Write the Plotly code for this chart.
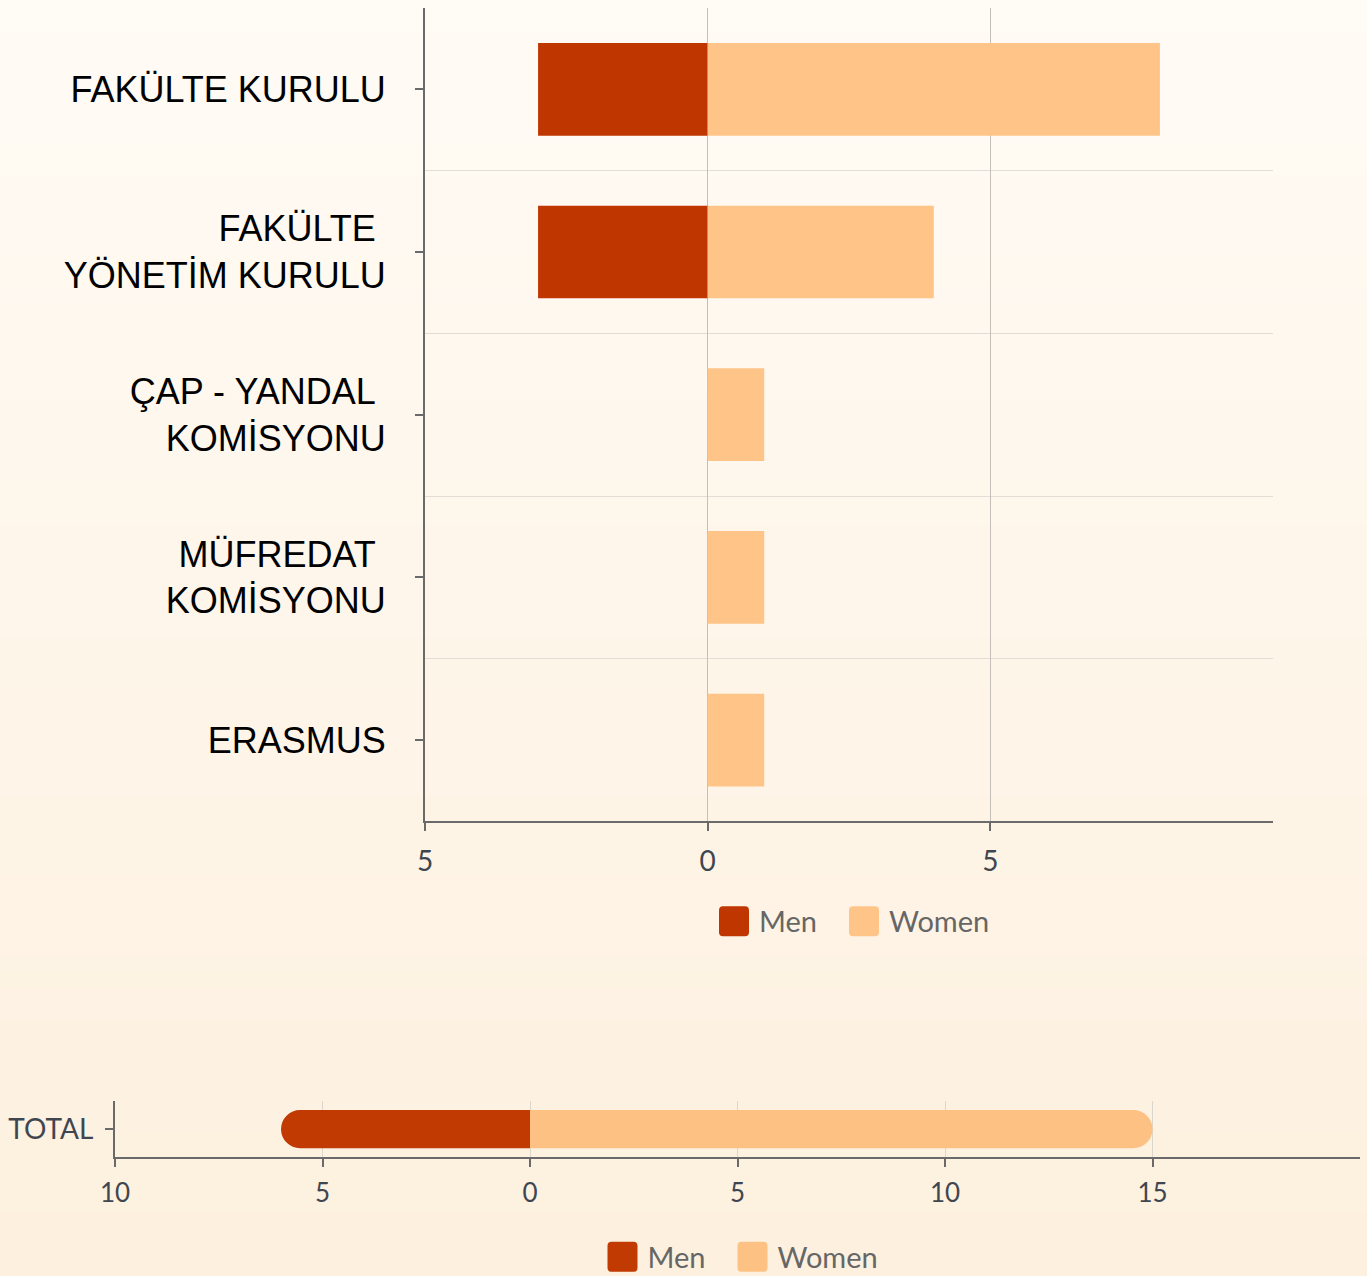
import plotly.graph_objects as go

categories = ["FAKÜLTE KURULU", "FAKÜLTE\u00a0<br>YÖNETİM KURULU", "ÇAP - YANDAL\u00a0<br>KOMİSYONU",
              "MÜFREDAT\u00a0<br>KOMİSYONU", "ERASMUS"]
men = [3, 3, 0, 0, 0]
women = [8, 4, 1, 1, 1]

total_label = ["TOTAL"]
total_men = [6]
total_women = [15]

top_tickvals = [-5, 0, 5]
top_ticktext = ["5", "0", "5"]
bot_tickvals = [-10, -5, 0, 5, 10, 15]
bot_ticktext = ["10", "5", "0", "5", "10", "15"]

MEN_C = "#bf3600"
WOMEN_C = "#ffc588"
W, H = 1367, 1283
RH = 1276.0  # reference height used for fractional placement

ypos = list(range(len(categories)))

fig = go.Figure()
fig.add_trace(go.Bar(y=ypos, x=[-v for v in men], orientation="h", name="Men",
                     marker=dict(color=MEN_C, line=dict(width=0)), width=0.57,
                     legend="legend", xaxis="x", yaxis="y", hoverinfo="skip"))
fig.add_trace(go.Bar(y=ypos, x=women, orientation="h", name="Women",
                     marker=dict(color=WOMEN_C, line=dict(width=0)), width=0.57,
                     legend="legend", xaxis="x", yaxis="y", hoverinfo="skip"))
fig.add_trace(go.Bar(y=[0], x=[-v for v in total_men], orientation="h", name="Men",
                     marker=dict(color="#c03a02", line=dict(width=0), cornerradius=19), width=0.68,
                     legend="legend2", xaxis="x2", yaxis="y2", hoverinfo="skip"))
fig.add_trace(go.Bar(y=[0], x=total_women, orientation="h", name="Women",
                     marker=dict(color="#fdc283", line=dict(width=0), cornerradius=19), width=0.68,
                     legend="legend2", xaxis="x2", yaxis="y2", hoverinfo="skip"))

# background gradient
shapes = []
N = 80
top_rgb = (255, 251, 245)
bot_rgb = (253, 240, 222)
for i in range(N):
    t = (i + 0.5) / N
    c = tuple(round(top_rgb[k] + (bot_rgb[k] - top_rgb[k]) * t) for k in range(3))
    shapes.append(dict(type="rect", xref="paper", yref="paper", x0=0, x1=1,
                       y0=1 - (i + 1) / N - 0.001, y1=1 - i / N,
                       fillcolor="rgb(%d,%d,%d)" % c, line=dict(width=0), layer="below"))

axis_line = "#6a6a6a"

x0t, x1t = 425 / W, 1273 / W
y0t, y1t = 1 - 822 / RH, 1 - 8 / RH
x0b, x1b = 115 / W, 1360 / W
y0b, y1b = 1 - 1158 / RH, 1 - 1102 / RH

legend_font = dict(family="Lato, sans-serif", size=29, color="#666666")

fig.update_layout(
    width=W, height=H,
    margin=dict(l=0, r=0, t=0, b=0),
    paper_bgcolor="#fef6ea",
    plot_bgcolor="rgba(0,0,0,0)",
    barmode="relative",
    shapes=shapes,
    showlegend=True,
    xaxis=dict(domain=[x0t, x1t], range=[-5, 10], tickvals=top_tickvals, ticktext=top_ticktext,
               showgrid=True, gridcolor="#c4bfb8", gridwidth=1, zeroline=False,
               showline=True, linecolor=axis_line, linewidth=2,
               ticks="outside", ticklen=8, tickcolor=axis_line, tickwidth=2,
               ticklabelstandoff=6,
               tickfont=dict(family="Lato, sans-serif", size=28, color="#3f4650"),
               minor=dict(tickvals=[10], showgrid=True, gridcolor="#ddd7cf", ticks=""),
               anchor="y", fixedrange=True, automargin=False),
    yaxis=dict(domain=[y0t, y1t], range=[4.5, -0.5], tickvals=ypos, ticktext=categories,
               showgrid=False, zeroline=False,
               showline=True, linecolor=axis_line, linewidth=2,
               ticks="outside", ticklen=8, tickcolor=axis_line, tickwidth=2,
               ticklabelstandoff=22,
               tickfont=dict(family="Liberation Sans, Arial, sans-serif", size=36, color="#000000"),
               minor=dict(tickvals=[0.5, 1.5, 2.5, 3.5], showgrid=True, gridcolor="#e2ddd6", ticks=""),
               anchor="x", fixedrange=True, automargin=False),
    xaxis2=dict(domain=[x0b, x1b], range=[-10, 20], tickvals=bot_tickvals, ticktext=bot_ticktext,
                showgrid=True, gridcolor="#ddd6cc", gridwidth=1, zeroline=False,
                showline=True, linecolor=axis_line, linewidth=2,
                ticks="outside", ticklen=8, tickcolor=axis_line, tickwidth=2,
                ticklabelstandoff=4,
                tickfont=dict(family="Lato, sans-serif", size=26, color="#3f4650"),
                minor=dict(tickvals=[20], showgrid=True, gridcolor="#ddd6cc", ticks=""),
                anchor="y2", fixedrange=True, automargin=False),
    yaxis2=dict(domain=[y0b, y1b], range=[-0.5, 0.5], tickvals=[0], ticktext=total_label,
                showgrid=False, zeroline=False,
                showline=True, linecolor=axis_line, linewidth=2,
                ticks="outside", ticklen=8, tickcolor=axis_line, tickwidth=2,
                ticklabelstandoff=6,
                tickfont=dict(family="Lato, sans-serif", size=28, color="#3f4650"),
                anchor="x2", fixedrange=True, automargin=False),
    legend=dict(orientation="h", x=(x0t + x1t) / 2, xanchor="center", y=1 - 922 / RH, yanchor="middle",
                font=legend_font, entrywidth=85, entrywidthmode="pixels",
                bgcolor="rgba(0,0,0,0)", itemclick=False, itemdoubleclick=False),
    legend2=dict(orientation="h", x=(x0b + x1b) / 2, xanchor="center", y=1 - 1258 / RH, yanchor="middle",
                 font=legend_font, entrywidth=85, entrywidthmode="pixels",
                 bgcolor="rgba(0,0,0,0)", itemclick=False, itemdoubleclick=False),
)

# enlarge legend swatches into rounded squares like the original; let last label overflow
post = """
document.body.style.margin='0';
document.body.style.overflow='hidden';
document.body.style.background='#fdf0de';
var gd = document.getElementById('{plot_id}');
gd.querySelectorAll('.legendpoints path').forEach(function(p){
  p.setAttribute('d','M-16,-15H6A4,4 0 0 1 10,-11V11A4,4 0 0 1 6,15H-16A4,4 0 0 1 -20,11V-11A4,4 0 0 1 -16,-15Z');
});
gd.querySelectorAll('[clip-path]').forEach(function(el){
  var cp = el.getAttribute('clip-path') || '';
  if (cp.indexOf('legend') >= 0) { el.removeAttribute('clip-path'); }
});
"""

fig.write_html("out.html", config={"displayModeBar": False}, post_script=post)
